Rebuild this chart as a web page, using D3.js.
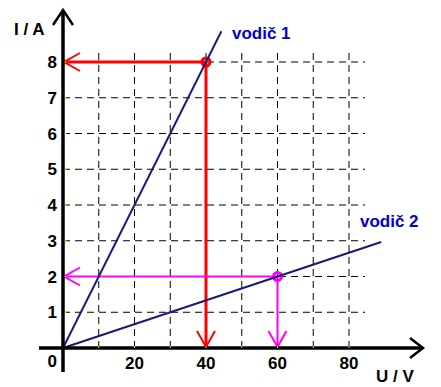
<!DOCTYPE html>
<html>
<head>
<meta charset="utf-8">
<script src="https://cdn.jsdelivr.net/npm/d3@7"></script>
<style>
  body { margin: 0; background: #fff; }
  svg { font-family: "Liberation Sans", Arial, sans-serif; font-weight: bold; }
</style>
</head>
<body>
<svg id="chart" width="441" height="387"></svg>
<script>
// data
var xTicks = [20, 40, 60, 80]
var yTicks = [1, 2, 3, 4, 5, 6, 7, 8]
var gridX = [10, 20, 30, 40, 50, 60, 70, 80]
var gridY = [1, 2, 3, 4, 5, 6, 7, 8]
var lineNames = ["vodič 1", "vodič 2"]
var lineEndU = [44.3, 89]
var lineSlope = [0.2, 1 / 30]   // I = slope * U
var readU = [40, 60]
var readI = [8, 2]
var readColors = ["#ff0000", "#ff00ff"]
var readWidths = [3, 2]

var svg = d3.select("#chart")

var xScale = d3.scaleLinear()
    .domain([0, 85])
    .range([63, 63 + 85 * 3.575])

var yScale = d3.scaleLinear()
    .domain([0, 8])
    .range([348, 62])

// dashed grid
svg.append("g").selectAll("line")
    .data(gridX).enter().append("line")
    .attr("x1", d => xScale(d)).attr("x2", d => xScale(d))
    .attr("y1", yScale(0)).attr("y2", yScale(8.35))
    .attr("stroke", "black").attr("stroke-width", 1)
    .attr("stroke-dasharray", "7,5")

svg.append("g").selectAll("line")
    .data(gridY).enter().append("line")
    .attr("x1", xScale(0)).attr("x2", xScale(84.5))
    .attr("y1", d => yScale(d)).attr("y2", d => yScale(d))
    .attr("stroke", "black").attr("stroke-width", 1)
    .attr("stroke-dasharray", "7,5")

// reading arrows
function arrowHead(x, y, dir, color, w){
    // open "V" head pointing left or down
    var p
    if (dir == "left") p = [[x + 16, y - 9], [x, y], [x + 16, y + 9]]
    else p = [[x - 9, y - 16], [x, y], [x + 9, y - 16]]
    svg.append("path").attr("d", d3.line()(p))
        .attr("stroke", color).attr("stroke-width", w).attr("fill", "none")
}

readU.forEach(function(u, i){
    var c = readColors[i], w = readWidths[i]
    var px = xScale(u), py = yScale(readI[i])
    svg.append("line").attr("x1", px).attr("y1", py).attr("x2", xScale(0) + 1).attr("y2", py)
        .attr("stroke", c).attr("stroke-width", w)
    svg.append("line").attr("x1", px).attr("y1", py).attr("x2", px).attr("y2", yScale(0) - 1)
        .attr("stroke", c).attr("stroke-width", w)
    arrowHead(xScale(0) + 1, py, "left", c, 2)
    arrowHead(px, yScale(0) - 1, "down", c, 2)
    svg.append("circle").attr("cx", px).attr("cy", py).attr("r", 4)
        .attr("stroke", c).attr("stroke-width", 3).attr("fill", "none")
})

// conductor lines
var lineGen = d3.line().x(d => xScale(d[0])).y(d => yScale(d[1]))
lineNames.forEach(function(name, i){
    svg.append("path")
        .attr("d", lineGen([[0, 0], [lineEndU[i], lineSlope[i] * lineEndU[i]]]))
        .attr("stroke", "#1a1a7a").attr("stroke-width", 2).attr("fill", "none")
})

svg.append("text").attr("x", 232).attr("y", 39)
    .attr("fill", "#0000cc").style("font-size", "17px").text(lineNames[0])
svg.append("text").attr("x", 360).attr("y", 227)
    .attr("fill", "#0000cc").style("font-size", "17px").text(lineNames[1])

// axes
svg.append("line").attr("x1", xScale(0)).attr("y1", 372).attr("x2", xScale(0)).attr("y2", 11)
    .attr("stroke", "black").attr("stroke-width", 3.5)
svg.append("path").attr("d", d3.line()([[53, 25], [63, 10], [73, 25]]))
    .attr("stroke", "black").attr("stroke-width", 2.5).attr("fill", "none")
svg.append("line").attr("x1", 39).attr("y1", yScale(0)).attr("x2", 422).attr("y2", yScale(0))
    .attr("stroke", "black").attr("stroke-width", 3.5)
svg.append("path").attr("d", d3.line()([[410, 338], [423, 348], [410, 358]]))
    .attr("stroke", "black").attr("stroke-width", 2.5).attr("fill", "none")

// small yellow tick marks on axes
svg.append("g").selectAll("rect").data(gridX).enter().append("rect")
    .attr("x", d => xScale(d) - 0.5).attr("y", yScale(0) - 2).attr("width", 1).attr("height", 2)
    .attr("fill", "#e6e600")
svg.append("g").selectAll("rect").data(gridY).enter().append("rect")
    .attr("x", xScale(0) + 1.5).attr("y", d => yScale(d) - 0.5).attr("width", 2).attr("height", 1)
    .attr("fill", "#e6e600")

// tick labels
svg.append("g").selectAll("text").data(yTicks).enter().append("text")
    .attr("x", 57).attr("y", d => yScale(d) + 6)
    .attr("text-anchor", "end").style("font-size", "17px").text(d => d)
svg.append("g").selectAll("text").data(xTicks).enter().append("text")
    .attr("x", d => xScale(d)).attr("y", 369)
    .attr("text-anchor", "middle").style("font-size", "17px").text(d => d)
svg.append("text").attr("x", 57).attr("y", 367)
    .attr("text-anchor", "end").style("font-size", "17px").text("0")

// axis titles
svg.append("text").attr("x", 14).attr("y", 35).style("font-size", "17px").text("I / A")
svg.append("text").attr("x", 376).attr("y", 382).style("font-size", "17px").text("U / V")
</script>
</body>
</html>
